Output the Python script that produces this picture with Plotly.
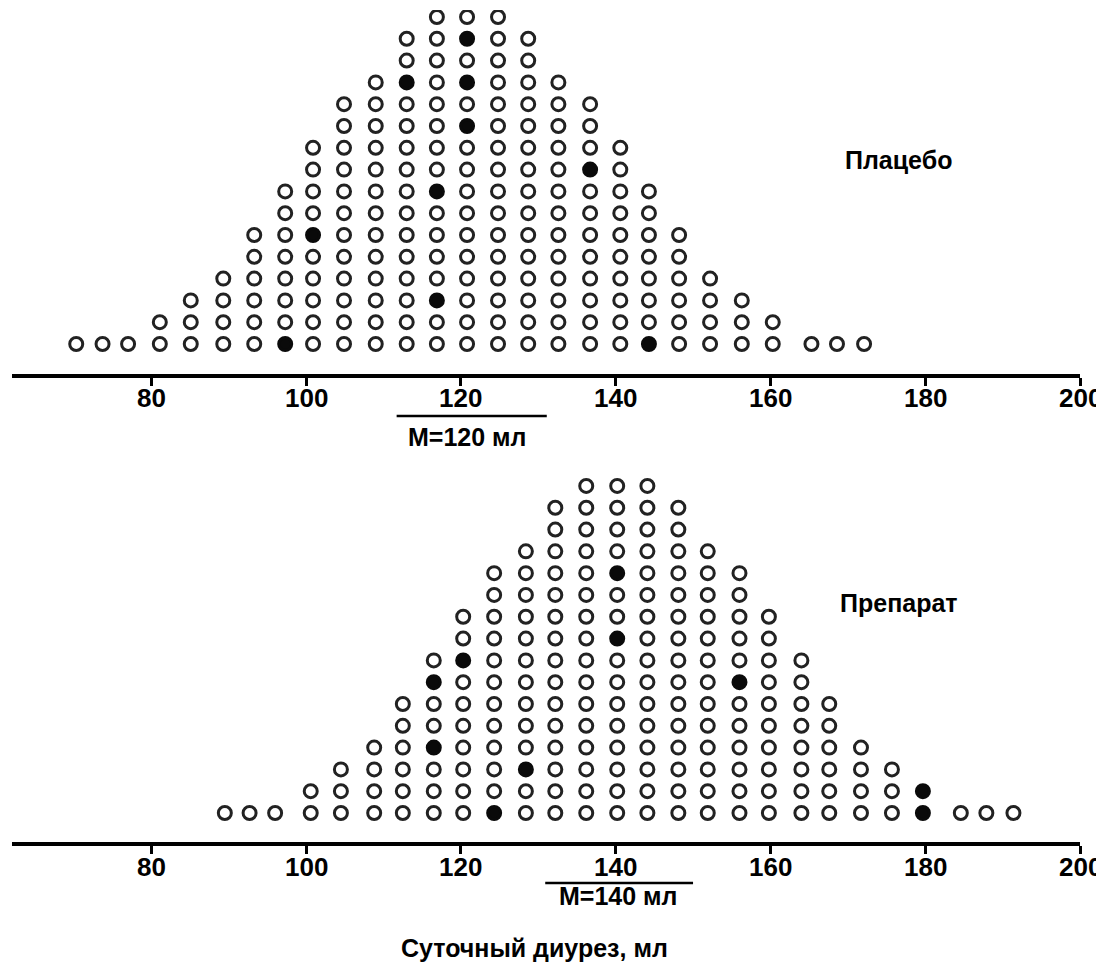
import plotly.graph_objects as go

# ---------------- data ----------------
# column centres (ml) and number of subjects stacked in each column
placebo_x = [70.3, 73.7, 77.0, 81.1, 85.1, 89.3, 93.3, 97.3, 100.9, 104.9, 109.0, 113.0, 116.9,
             120.8, 124.8, 128.7, 132.6, 136.7, 140.6, 144.3, 148.2, 152.2, 156.3, 160.3,
             165.3, 168.6, 172.1]
placebo_n = [1, 1, 1, 2, 3, 4, 6, 8, 10, 12, 13, 15, 16, 16, 16, 15, 13, 12, 10, 8, 6, 4, 3, 2, 1, 1, 1]
# highlighted (filled) subjects: column index and level within the column
placebo_filled_col = [7, 8, 11, 12, 12, 13, 13, 13, 17, 19]
placebo_filled_row = [0, 5, 12, 7, 2, 14, 12, 10, 8, 0]

drug_x = [89.5, 92.7, 96.0, 100.6, 104.5, 108.8, 112.5, 116.5, 120.3, 124.3, 128.4, 132.2, 136.2,
          140.2, 144.1, 148.1, 151.9, 156.0, 159.8, 164.0, 167.6, 171.7, 175.7, 179.7,
          184.6, 187.9, 191.4]
drug_n = [1, 1, 1, 2, 3, 4, 6, 8, 10, 12, 13, 15, 16, 16, 16, 15, 13, 12, 10, 8, 6, 4, 3, 2, 1, 1, 1]
drug_filled_col = [7, 7, 8, 9, 10, 13, 13, 17, 23, 23]
drug_filled_row = [6, 3, 7, 0, 2, 11, 8, 6, 0, 1]

group_labels = ["Плацебо", "Препарат"]
group_means = [120, 140]
mean_labels = ["M=120 мл", "M=140 мл"]
spread_bars = [[111.7, 131.1], [130.9, 150.0]]

tick_vals = [80, 100, 120, 140, 160, 180, 200]
tick_text = ["80", "100", "120", "140", "160", "180", "200"]
x_title = "Суточный диурез, мл"

# ---------------- figure ----------------
OFF = 8                      # default page margin of the html body
W, H = 1104 - OFF, 967 - OFF
L, R = 12 - OFF, 24
FONT = "Liberation Sans, Arial, sans-serif"


def py(px):                  # page pixel (y) -> paper fraction
    return 1 - (px - OFF) / H


def pxx(px):                 # page pixel (x) -> paper fraction
    return (px - OFF - L) / (W - L - R)


fig = go.Figure()


def add_group(xs, ns, fcol, frow, xa, ya):
    filled = set(zip(fcol, frow))
    ox, oy, fx, fy = [], [], [], []
    for i, (xv, n) in enumerate(zip(xs, ns)):
        for r in range(n):
            if (i, r) in filled:
                fx.append(xv)
                fy.append(r)
            else:
                ox.append(xv)
                oy.append(r)
    fig.add_trace(go.Scatter(x=ox, y=oy, mode="markers", xaxis=xa, yaxis=ya,
                             marker=dict(size=13, color="white",
                                         line=dict(color="#222222", width=3)),
                             hoverinfo="x", showlegend=False))
    fig.add_trace(go.Scatter(x=fx, y=fy, mode="markers", xaxis=xa, yaxis=ya,
                             marker=dict(size=13, color="#0a0a0a",
                                         line=dict(color="#0a0a0a", width=3)),
                             hoverinfo="x", showlegend=False))


add_group(placebo_x, placebo_n, placebo_filled_col, placebo_filled_row, "x", "y")
add_group(drug_x, drug_n, drug_filled_col, drug_filled_row, "x2", "y2")

xaxis_common = dict(range=[62, 200], showgrid=False, zeroline=False, showline=True,
                    linecolor="black", linewidth=3.5, ticks="outside", ticklen=8,
                    tickwidth=3, tickcolor="black", tickvals=tick_vals,
                    showticklabels=False, automargin=False, fixedrange=True)

fig.update_layout(
    template="none",
    width=W, height=H,
    margin=dict(l=L, r=R, t=0, b=0, pad=0),
    paper_bgcolor="white", plot_bgcolor="rgba(0,0,0,0)",
    showlegend=False,
    xaxis=dict(anchor="y", domain=[0, 1], **xaxis_common),
    yaxis=dict(domain=[py(374), py(10)], range=[-1.376, 15.32], visible=False, fixedrange=True),
    xaxis2=dict(anchor="y2", domain=[0, 1], **xaxis_common),
    yaxis2=dict(domain=[py(842), py(460)], range=[-1.33, 16.19], visible=False, fixedrange=True),
)

# tick labels (placed just under each axis line)
for xref, ypx in (("x", 398), ("x2", 867)):
    for v, t in zip(tick_vals, tick_text):
        fig.add_annotation(text=t, x=v, y=py(ypx), xref=xref, yref="paper",
                           xanchor="center", yanchor="middle", showarrow=False,
                           font=dict(family=FONT, size=26, color="black", weight="bold"))

# spread bars under the axis (mean region)
fig.add_shape(type="line", xref="x", yref="paper", x0=spread_bars[0][0], x1=spread_bars[0][1],
              y0=py(416), y1=py(416), line=dict(color="black", width=2.5))
fig.add_shape(type="line", xref="x2", yref="paper", x0=spread_bars[1][0], x1=spread_bars[1][1],
              y0=py(883), y1=py(883), line=dict(color="black", width=2.5))

annots = [
    dict(text=mean_labels[0], x=pxx(467), y=py(437)),
    dict(text=mean_labels[1], x=pxx(618), y=py(896)),
    dict(text=group_labels[0], x=pxx(898), y=py(160)),
    dict(text=group_labels[1], x=pxx(899), y=py(603)),
    dict(text=x_title, x=pxx(534), y=py(948)),
]
for a in annots:
    fig.add_annotation(text=a["text"], x=a["x"], y=a["y"], xref="paper", yref="paper",
                       xanchor="center", yanchor="middle", showarrow=False,
                       font=dict(family=FONT, size=25, color="black", weight="bold"))

fig.write_html("out.html")
